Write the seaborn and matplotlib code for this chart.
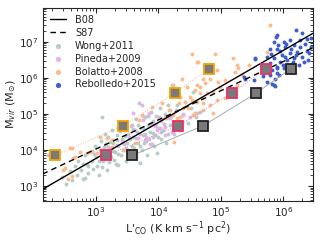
import numpy as np
import pandas as pd
import matplotlib
matplotlib.use("Agg")
import matplotlib.pyplot as plt
import seaborn as sns

# ---- data (log10 L'CO, log10 Mvir) ----
wong_logL = [2.24, 2.45, 2.52, 2.58, 2.62, 2.66, 2.70, 2.72, 2.76, 2.80, 2.82, 2.85, 2.88, 2.90, 2.93, 2.95,
             2.98, 3.00, 3.02, 3.05, 3.06, 3.08, 3.10, 3.12, 3.14, 3.16, 3.18, 3.20, 3.22, 3.24, 3.26, 3.28,
             3.30, 3.32, 3.34, 3.36, 3.38, 3.40, 3.42, 3.44, 3.46, 3.48, 3.50, 3.52, 3.54, 3.56, 3.58, 3.60,
             3.62, 3.64, 3.66, 3.68, 3.69, 3.70, 3.72, 3.74, 3.76, 3.78, 3.80, 3.82, 3.84, 3.86, 3.88, 3.90,
             3.92, 3.94, 3.96, 3.98, 4.00, 4.02, 4.04, 4.06, 4.08, 4.10, 4.12, 4.15, 4.18, 4.20, 4.22, 4.25,
             4.28, 4.30, 4.33, 4.36, 4.40, 4.43, 4.47, 4.52, 4.56, 4.60, 4.67, 4.72, 3.36, 2.83,
             3.15, 3.21, 3.27, 3.33, 3.39, 3.45, 3.47, 3.51, 3.55, 3.59, 3.61, 3.65, 3.67, 3.71, 3.75, 3.77,
             3.79, 3.83, 3.85, 3.87, 3.91, 3.93, 3.97, 3.99, 4.03, 4.05, 4.09, 4.13, 4.16, 4.19, 3.05, 2.97,
             3.09, 2.87, 2.79, 3.13, 3.23, 3.29, 3.35, 3.43]
wong_logM = [3.86, 3.25, 3.05, 3.40, 3.15, 3.55, 3.30, 3.70, 3.45, 3.20, 3.85, 3.60, 3.35, 3.95, 3.70, 3.48,
             4.10, 3.80, 3.55, 3.30, 4.00, 4.25, 4.92, 3.70, 3.90, 4.15, 3.45, 4.35, 4.05, 3.80, 4.55, 4.20,
             3.95, 3.60, 4.40, 4.10, 4.75, 3.85, 4.30, 4.00, 4.55, 3.70, 4.20, 4.45, 3.95, 4.65, 4.10, 4.35,
             3.80, 4.85, 4.50, 4.20, 5.29, 3.63, 4.60, 4.00, 4.40, 4.90, 4.25, 3.85, 4.70, 4.50, 5.05, 4.15,
             4.80, 4.40, 4.95, 3.90, 4.60, 5.15, 4.30, 4.85, 4.55, 5.00, 4.20, 5.25, 4.70, 4.95, 5.80, 4.45,
             5.10, 5.24, 4.80, 4.60, 5.00, 5.33, 4.75, 5.15, 5.61, 4.90, 5.05, 4.65, 3.58, 3.21,
             4.45, 3.65, 3.98, 4.28, 4.52, 4.15, 4.38, 3.88, 4.30, 4.58, 4.05, 4.32, 4.70, 4.12, 4.62, 4.18,
             4.45, 4.95, 4.30, 4.68, 4.48, 4.12, 4.72, 4.35, 4.88, 4.50, 4.72, 4.95, 4.45, 5.10, 3.68, 3.88,
             3.52, 3.55, 3.62, 4.08, 4.22, 3.72, 3.88, 4.65]

pineda_logL = [3.74, 3.85, 3.90, 3.98, 3.53, 3.42, 3.20, 3.63, 3.79, 4.11, 4.22, 4.01, 3.60, 3.76, 3.89,
               4.03, 4.14, 4.24, 4.51, 4.62, 3.68, 3.92, 3.44, 4.19, 4.40, 3.33, 3.81, 3.70, 3.95, 4.05,
               3.58, 3.87, 4.30, 4.35, 3.48, 3.75, 4.10]
pineda_logM = [5.24, 5.01, 4.74, 4.55, 4.37, 4.23, 4.09, 4.55, 4.27, 4.64, 4.50, 4.92, 5.01, 4.83, 4.74,
               4.60, 4.88, 4.46, 4.92, 5.01, 4.32, 4.37, 4.23, 4.88, 4.97, 4.14, 4.37, 4.45, 4.65, 4.80,
               4.68, 4.15, 4.70, 4.55, 4.05, 4.95, 4.40]

bolatto_logL = [2.62, 2.67, 2.48, 2.62, 3.07, 3.18, 3.26, 3.47, 3.63, 3.69, 3.90, 4.06, 4.17, 4.33, 4.11,
                4.30, 3.74, 2.58, 2.64, 2.50, 2.74, 2.85, 2.93, 3.12, 3.25, 2.56, 3.01,
                5.79, 4.54, 4.62, 4.38, 5.20, 5.26, 5.28, 5.23, 5.45, 5.34, 5.26, 5.18, 5.07, 4.94,
                4.96, 4.83, 4.72, 4.75, 4.67, 4.59, 4.78, 4.88, 4.99, 4.70, 4.62, 4.51, 4.43, 4.35,
                4.48, 4.83, 4.94, 5.07, 4.72, 4.88, 4.56, 5.74, 4.24, 4.91, 4.25,
                4.46, 4.62, 4.67, 4.54, 4.72, 4.40, 4.59, 4.35, 4.24, 4.64]
bolatto_logM = [4.04, 3.81, 3.44, 3.26, 4.37, 4.32, 4.27, 4.00, 4.18, 4.83, 5.20, 5.29, 5.11, 5.29, 4.88,
                4.88, 4.97, 4.04, 3.77, 3.49, 3.95, 3.90, 3.97, 4.00, 4.09, 3.19, 3.90,
                7.46, 6.65, 6.43, 5.98, 6.54, 6.35, 6.26, 6.17, 6.35, 6.07, 5.80, 5.66, 5.94, 6.21,
                5.89, 5.98, 5.98, 5.85, 5.75, 5.66, 5.57, 5.61, 5.75, 5.43, 5.34, 5.47, 5.34, 5.47,
                5.15, 5.24, 5.38, 5.43, 5.11, 5.01, 4.97, 6.72, 4.97, 6.67, 4.23,
                5.75, 5.80, 5.57, 5.38, 5.29, 5.15, 5.01, 4.92, 5.80, 6.44]

rebolledo_logL = [6.20, 6.30, 5.90, 5.85, 6.01, 5.79, 5.90, 6.03, 6.17, 6.27, 6.38, 6.44, 6.22, 6.11, 5.98,
                  5.85, 5.74, 5.55, 5.79, 5.95, 6.06, 6.17, 6.30, 6.41, 6.01, 5.90, 5.82, 5.93, 5.87,
                  5.85, 5.79, 5.67, 5.39, 5.87, 5.74, 6.25, 6.33, 6.11, 5.88, 5.90, 5.90, 5.82, 5.37,
                  5.53, 5.54, 5.95, 6.05, 6.12, 6.20, 6.35, 6.40, 5.80, 6.00, 6.15, 6.26, 6.45, 6.10,
                  5.92, 6.38, 6.02]
rebolledo_logM = [7.32, 7.23, 7.18, 7.00, 7.00, 6.81, 6.81, 6.86, 6.91, 7.04, 7.09, 6.86, 6.72, 6.68, 6.63,
                  6.54, 6.58, 6.54, 6.40, 6.44, 6.49, 6.54, 6.58, 6.68, 6.26, 6.26, 6.21, 6.07, 5.98,
                  5.80, 6.07, 6.06, 5.98, 5.77, 5.89, 6.35, 6.44, 6.35, 7.13, 6.30, 6.12, 5.84, 6.03,
                  5.94, 6.52, 6.75, 6.95, 6.80, 6.62, 6.95, 6.50, 6.65, 6.35, 6.45, 6.85, 7.10, 7.05,
                  6.90, 6.75, 6.58]

# binned squares (log10 L'CO, log10 Mvir)
orange_sq_logL = [2.34, 3.44, 4.27, 4.81]
pink_sq_logL = [3.16, 4.32, 5.18, 5.72]
black_sq_logL = [3.58, 4.72, 5.57, 6.12]
sq_logM = [3.845, 4.67, 5.58, 6.25]

# relations
b08_norm, b08_slope = 5.75, 1.0
s87_norm, s87_slope = 39.0, 0.81

xlim = (140, 2.95e6)
ylim = (380, 8.9e7)

# ---- plot ----
sns.set_style("ticks")
plt.rcParams['font.family'] = ['DejaVu Sans']
fig = plt.figure(figsize=(3.2, 2.4), dpi=100)
ax = fig.add_axes([0.133, 0.1625, 0.844, 0.806])

def df(lx, ly):
    return pd.DataFrame({"L": 10 ** np.array(lx), "M": 10 ** np.array(ly)})

Lline = np.logspace(np.log10(xlim[0]), np.log10(xlim[1]), 50)
ax.plot(Lline, b08_norm * Lline ** b08_slope, color="black", lw=1.0, label="B08", zorder=5)
ax.plot(Lline, s87_norm * Lline ** s87_slope, color="black", lw=1.0, ls=(0, (4, 3)), label="S87", zorder=5)

kw = dict(s=8, linewidth=0, ax=ax, zorder=2)
sns.scatterplot(data=df(wong_logL, wong_logM), x="L", y="M", color="#b7cdc7", label="Wong+2011", **kw)
sns.scatterplot(data=df(pineda_logL, pineda_logM), x="L", y="M", color="#e7b2ea", label="Pineda+2009", **kw)
sns.scatterplot(data=df(bolatto_logL, bolatto_logM), x="L", y="M", color="#fdbb8c", label="Bolatto+2008", **kw)
sns.scatterplot(data=df(rebolledo_logL, rebolledo_logM), x="L", y="M", color="#3d5fc7", label="Rebolledo+2015", **kw)

sqM = 10 ** np.array(sq_logM)
for lx, ec, lc, ls in [(orange_sq_logL, "#f5a300", "#e8b98a", ":"),
                       (pink_sq_logL, "#e8306a", "#e48aae", ":"),
                       (black_sq_logL, "#222222", "#aaaaaa", "-")]:
    ax.plot(10 ** np.array(lx), sqM, color=lc, lw=0.7, ls=ls, zorder=3)
    ax.plot(10 ** np.array(lx), sqM, ls="none", marker="s", ms=6.5, mfc="#7a7a7a",
            mec=ec, mew=1.3, zorder=6)

ax.set_xscale("log")
ax.set_yscale("log")
ax.set_xlim(*xlim)
ax.set_ylim(*ylim)
ax.tick_params(which="both", direction="in", top=True, right=True, labelsize=7.5, pad=3)
ax.tick_params(which="major", length=3.5)
ax.tick_params(which="minor", length=2)
ax.set_xlabel(r"L'$_{\rm CO}$ (K km s$^{-1}$ pc$^{2}$)", fontsize=8, labelpad=0)
ax.set_ylabel(r"M$_{vir}$ (M$_{\odot}$)", fontsize=8, labelpad=1)

leg = ax.legend(loc="upper left", frameon=False, fontsize=7, handlelength=1.7,
                labelspacing=0.3, borderaxespad=0.35, handletextpad=0.9, markerscale=1.0)
for h in leg.legend_handles[2:]:
    try:
        h.set_sizes([14])
    except Exception:
        pass

fig.savefig("out.png", dpi=100)
